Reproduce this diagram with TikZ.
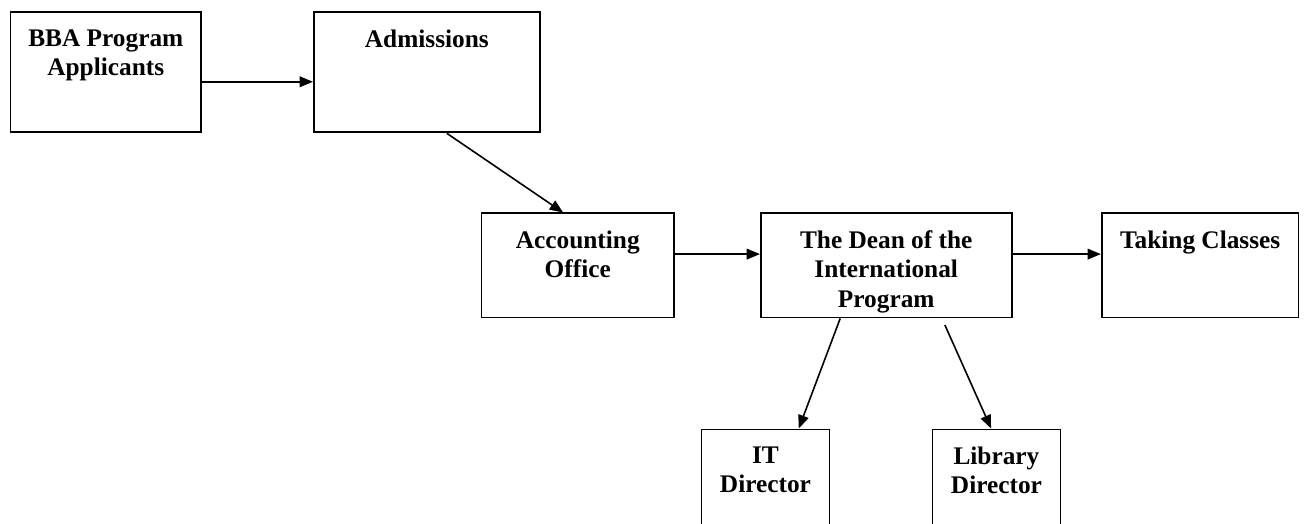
\documentclass[tikz,border=0pt]{standalone}
\usepackage{fontspec}
\setmainfont{Liberation Serif}
\usepackage{tikz}
\usetikzlibrary{arrows.meta, positioning}

\begin{document}
\begin{tikzpicture}[
		x=0.75pt, y=-0.75pt,
		every node/.style={font=\fontsize{19}{22}\selectfont\bfseries},
		block/.style={
			rectangle,
			draw,
			line width=1.4pt,
			inner sep=0pt
		},
		boxtext/.style={
			anchor=north,
			align=center,
			inner sep=0pt,
			yshift=-13.5pt
		},
		arrow/.style={
			-{Triangle[length=10pt,width=8pt]},
			line width=1.2pt
		}
		]
		
		\clip (0,0) rectangle (1304,524);
		
		% Top row
		\node[block, anchor=north west, minimum width=143pt, minimum height=90pt,
			label={[boxtext]north:{BBA Program\\Applicants}}] (applicants) at (9.5,11.5) {};
		
		\node[block, right=83.2pt of applicants, minimum width=169.5pt, minimum height=90pt,
			label={[boxtext]north:Admissions}] (admissions) {};
		
		% Middle row
		\node[block, anchor=north west, minimum width=144.5pt, minimum height=78pt,
			label={[boxtext]north:{Accounting\\Office}}] (accounting) at (480.5,212.5) {};
		
		\node[block, right=63.7pt of accounting, minimum width=188pt, minimum height=78pt,
			label={[boxtext]north:{The Dean of the\\International\\Program}}] (dean) {};
		
		\node[block, right=66.3pt of dean, minimum width=147.5pt, minimum height=78pt,
			label={[boxtext]north:Taking Classes}] (classes) {};
		
		% Bottom row
		\node[block, anchor=north west, minimum width=96pt, minimum height=90pt,
			label={[boxtext]north:{IT\\Director}}] (itdir) at (700.5,428.5) {};
		
		\node[block, anchor=north west, minimum width=96pt, minimum height=90pt,
			label={[boxtext]north:{Library\\Director}}] (libdir) at (931.5,428.5) {};
		
		% Arrows
		\draw[arrow] ([yshift=-7pt]applicants.east) -- ([yshift=-7pt]admissions.west);
		\draw[arrow] ([xshift=15pt]admissions.south) -- ([xshift=-11pt]accounting.north);
		\draw[arrow] ([yshift=8.5pt]accounting.east) -- ([yshift=8.5pt]dean.west);
		\draw[arrow] ([yshift=8.5pt]dean.east) -- ([yshift=8.5pt]classes.west);
		
		\draw[arrow] ([xshift=-34.5pt]dean.south) -- ([xshift=25pt]itdir.north);
		\draw[arrow] ([xshift=44pt,yshift=-5pt]dean.south) -- ([xshift=-4pt]libdir.north);
		
	\end{tikzpicture}
\end{document}
